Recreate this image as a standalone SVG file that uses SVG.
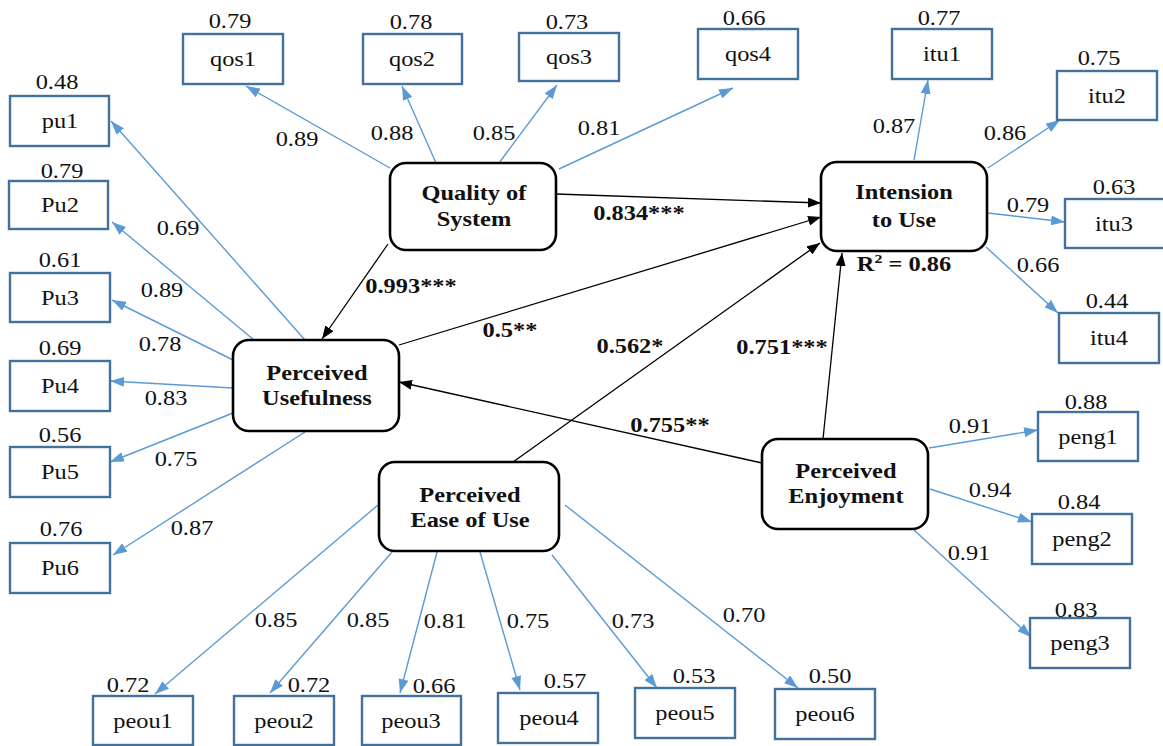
<svg xmlns="http://www.w3.org/2000/svg" width="1163" height="746" viewBox="0 0 1163 746">
  <defs>
    <marker id="ab" viewBox="0 0 14 10" refX="14" refY="5" markerWidth="14" markerHeight="10" orient="auto" markerUnits="userSpaceOnUse">
      <path d="M0,0 L14,5 L0,10 z" fill="#5b9bd5"/>
    </marker>
    <marker id="ak" viewBox="0 0 13 10" refX="13" refY="5" markerWidth="13" markerHeight="10" orient="auto" markerUnits="userSpaceOnUse">
      <path d="M0,0 L13,5 L0,10 z" fill="#000"/>
    </marker>
  </defs>
  <style>
    text { font-family: 'Liberation Serif', 'DejaVu Serif', serif; font-size: 20px; fill: #111; text-anchor: middle;
           transform-box: fill-box; transform-origin: center; transform: scaleX(1.22); }
    .b { font-weight: bold; }
    .ind { fill: #fff; stroke: #41719c; stroke-width: 2.4; }
    .lat { fill: #fff; stroke: #000; stroke-width: 2.6; }
    .ld { stroke: #5b9bd5; stroke-width: 1.4; fill: none; marker-end: url(#ab); }
    .pth { stroke: #000; stroke-width: 1.3; fill: none; marker-end: url(#ak); }
  </style>
  <rect width="1163" height="746" fill="#fff"/>

  <g font-family="Liberation Serif, DejaVu Serif, serif">
  <!-- connectors -->
  <g id="connectors">
    <!-- Quality of System loadings -->
    <line class="ld" x1="390" y1="168" x2="246" y2="86"/>
    <line class="ld" x1="436" y1="163" x2="402" y2="86"/>
    <line class="ld" x1="499" y1="163" x2="557" y2="85"/>
    <line class="ld" x1="559" y1="169" x2="733" y2="88"/>
    <!-- Intension to Use loadings -->
    <line class="ld" x1="914" y1="160" x2="928" y2="80"/>
    <line class="ld" x1="988" y1="168" x2="1060" y2="120"/>
    <line class="ld" x1="988" y1="213" x2="1065" y2="222"/>
    <line class="ld" x1="986" y1="247" x2="1058" y2="313"/>
    <!-- Perceived Usefulness loadings -->
    <line class="ld" x1="305" y1="340" x2="111" y2="121"/>
    <line class="ld" x1="254" y1="340" x2="112" y2="222"/>
    <line class="ld" x1="233" y1="360" x2="112" y2="300"/>
    <line class="ld" x1="233" y1="388" x2="110" y2="381"/>
    <line class="ld" x1="233" y1="413" x2="110" y2="462"/>
    <line class="ld" x1="305" y1="432" x2="113" y2="555"/>
    <!-- Perceived Ease of Use loadings -->
    <line class="ld" x1="378" y1="505" x2="155" y2="694"/>
    <line class="ld" x1="392" y1="552" x2="270" y2="693"/>
    <line class="ld" x1="437" y1="552" x2="400" y2="693"/>
    <line class="ld" x1="480" y1="552" x2="520" y2="690"/>
    <line class="ld" x1="552" y1="555" x2="657" y2="688"/>
    <line class="ld" x1="565" y1="505" x2="798" y2="688"/>
    <!-- Perceived Enjoyment loadings -->
    <line class="ld" x1="929" y1="448" x2="1038" y2="430"/>
    <line class="ld" x1="930" y1="489" x2="1032" y2="522"/>
    <line class="ld" x1="914" y1="530" x2="1031" y2="637"/>
    <!-- structural paths -->
    <line class="pth" x1="556" y1="194" x2="821" y2="203"/>
    <line class="pth" x1="388" y1="244" x2="322" y2="339"/>
    <line class="pth" x1="399" y1="345" x2="821" y2="217"/>
    <line class="pth" x1="513" y1="462" x2="820" y2="243"/>
    <line class="pth" x1="823" y1="439" x2="842" y2="253"/>
    <line class="pth" x1="762" y1="463" x2="399" y2="382"/>
  </g>

  <!-- path coefficients -->
  <g id="path-labels">
    <text class="b" x="639" y="220">0.834***</text>
    <text class="b" x="411" y="293">0.993***</text>
    <text class="b" x="510" y="337">0.5**</text>
    <text class="b" x="630" y="353">0.562*</text>
    <text class="b" x="782" y="354">0.751***</text>
    <text class="b" x="670" y="432">0.755**</text>
  </g>

  <!-- loading values -->
  <g id="loading-labels">
    <text x="297" y="146">0.89</text>
    <text x="392" y="140">0.88</text>
    <text x="494" y="140">0.85</text>
    <text x="599" y="135">0.81</text>
    <text x="894" y="133">0.87</text>
    <text x="1005" y="140">0.86</text>
    <text x="1028" y="212">0.79</text>
    <text x="1038" y="272">0.66</text>
    <text x="178" y="235">0.69</text>
    <text x="162" y="297">0.89</text>
    <text x="160" y="351">0.78</text>
    <text x="166" y="405">0.83</text>
    <text x="176" y="466">0.75</text>
    <text x="192" y="535">0.87</text>
    <text x="276" y="627">0.85</text>
    <text x="368" y="627">0.85</text>
    <text x="445" y="628">0.81</text>
    <text x="528" y="628">0.75</text>
    <text x="633" y="628">0.73</text>
    <text x="744" y="622">0.70</text>
    <text x="970" y="433">0.91</text>
    <text x="990" y="497">0.94</text>
    <text x="969" y="560">0.91</text>
  </g>

  <!-- latent constructs -->
  <g id="quality-of-system">
    <rect class="lat" x="390" y="163" width="166" height="87" rx="16"/>
    <text class="b" x="474" y="200">Quality of</text>
    <text class="b" x="474" y="226">System</text>
  </g>
  <g id="intension-to-use">
    <rect class="lat" x="821" y="162" width="166" height="89" rx="16"/>
    <text class="b" x="904" y="199">Intension</text>
    <text class="b" x="904" y="227">to Use</text>
    <text class="b" x="904" y="271">R<tspan font-size="13" dy="-8">2</tspan><tspan dy="8"> = 0.86</tspan></text>
  </g>
  <g id="perceived-usefulness">
    <rect class="lat" x="233" y="340" width="166" height="91" rx="16"/>
    <text class="b" x="317" y="380">Perceived</text>
    <text class="b" x="317" y="405">Usefulness</text>
  </g>
  <g id="perceived-ease-of-use">
    <rect class="lat" x="379" y="462" width="180" height="89" rx="16"/>
    <text class="b" x="470" y="502">Perceived</text>
    <text class="b" x="470" y="527">Ease of Use</text>
  </g>
  <g id="perceived-enjoyment">
    <rect class="lat" x="762" y="439" width="166" height="90" rx="16"/>
    <text class="b" x="846" y="478">Perceived</text>
    <text class="b" x="846" y="503">Enjoyment</text>
  </g>

  <!-- indicators -->
  <g id="qos1"><rect class="ind" x="183" y="34" width="100" height="50"/><text x="233" y="66">qos1</text><text x="230" y="28">0.79</text></g>
  <g id="qos2"><rect class="ind" x="363" y="34" width="99" height="50"/><text x="412" y="66">qos2</text><text x="411" y="29">0.78</text></g>
  <g id="qos3"><rect class="ind" x="519" y="33" width="100" height="48"/><text x="569" y="64">qos3</text><text x="567" y="29">0.73</text></g>
  <g id="qos4"><rect class="ind" x="698" y="29" width="100" height="50"/><text x="748" y="61">qos4</text><text x="744" y="25">0.66</text></g>

  <g id="itu1"><rect class="ind" x="892" y="29" width="100" height="50"/><text x="942" y="61">itu1</text><text x="939" y="25">0.77</text></g>
  <g id="itu2"><rect class="ind" x="1057" y="71" width="100" height="49"/><text x="1107" y="103">itu2</text><text x="1099" y="65">0.75</text></g>
  <g id="itu3"><rect class="ind" x="1065" y="199" width="100" height="49"/><text x="1114" y="231">itu3</text><text x="1114" y="194">0.63</text></g>
  <g id="itu4"><rect class="ind" x="1059" y="313" width="100" height="50"/><text x="1109" y="345">itu4</text><text x="1107" y="308">0.44</text></g>

  <g id="pu1"><rect class="ind" x="10" y="96" width="99" height="50"/><text x="60" y="128">pu1</text><text x="57" y="89">0.48</text></g>
  <g id="pu2"><rect class="ind" x="9" y="181" width="99" height="48"/><text x="60" y="212">Pu2</text><text x="62" y="178">0.79</text></g>
  <g id="pu3"><rect class="ind" x="10" y="273" width="100" height="49"/><text x="60" y="305">Pu3</text><text x="60" y="267">0.61</text></g>
  <g id="pu4"><rect class="ind" x="10" y="361" width="100" height="50"/><text x="60" y="393">Pu4</text><text x="60" y="355">0.69</text></g>
  <g id="pu5"><rect class="ind" x="10" y="447" width="100" height="50"/><text x="60" y="479">Pu5</text><text x="60" y="442">0.56</text></g>
  <g id="pu6"><rect class="ind" x="10" y="543" width="100" height="50"/><text x="60" y="575">Pu6</text><text x="61" y="536">0.76</text></g>

  <g id="peou1"><rect class="ind" x="93" y="696" width="100" height="49"/><text x="143" y="728">peou1</text><text x="128" y="692">0.72</text></g>
  <g id="peou2"><rect class="ind" x="234" y="696" width="100" height="49"/><text x="284" y="728">peou2</text><text x="309" y="692">0.72</text></g>
  <g id="peou3"><rect class="ind" x="362" y="696" width="99" height="49"/><text x="411" y="728">peou3</text><text x="434" y="693">0.66</text></g>
  <g id="peou4"><rect class="ind" x="498" y="693" width="100" height="50"/><text x="549" y="725">peou4</text><text x="565" y="688">0.57</text></g>
  <g id="peou5"><rect class="ind" x="635" y="688" width="100" height="50"/><text x="685" y="720">peou5</text><text x="694" y="683">0.53</text></g>
  <g id="peou6"><rect class="ind" x="775" y="689" width="100" height="50"/><text x="825" y="721">peou6</text><text x="830" y="683">0.50</text></g>

  <g id="peng1"><rect class="ind" x="1038" y="412" width="100" height="49"/><text x="1088" y="444">peng1</text><text x="1086" y="409">0.88</text></g>
  <g id="peng2"><rect class="ind" x="1032" y="514" width="100" height="50"/><text x="1082" y="546">peng2</text><text x="1079" y="509">0.84</text></g>
  <g id="peng3"><rect class="ind" x="1030" y="618" width="100" height="50"/><text x="1080" y="650">peng3</text><text x="1076" y="617">0.83</text></g>
  </g>
</svg>
